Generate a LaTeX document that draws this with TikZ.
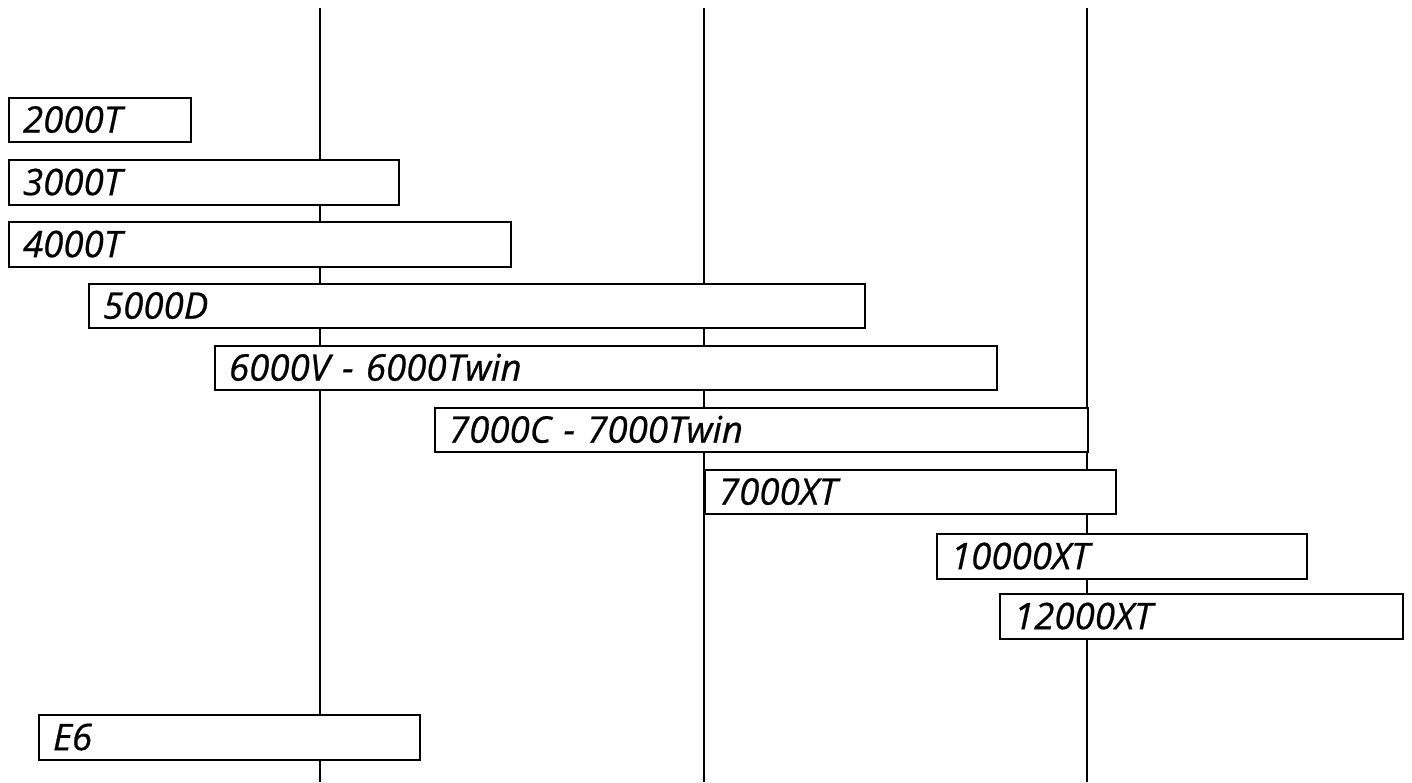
\documentclass[tikz,border=0pt]{standalone}
\usepackage{fontspec}
\setmainfont{Open Sans}
\newfontfamily\lblfont{Open Sans}[FakeBold=0.6]
\begin{document}
\begin{tikzpicture}[x=0.75pt,y=-0.75pt,
  vline/.style={line width=1.5pt,black},
  tb/.style={draw=black,fill=white,line width=1.5pt,anchor=north west,
    inner xsep=10.5pt,inner ysep=0pt,align=left,
    font=\lblfont\fontsize{27.5}{30}\selectfont\itshape,text height=19pt,text depth=0pt}]
\useasboundingbox (0,0) rectangle (1412,782);
\newcommand\tbox[6]{\node[tb,minimum width={(#4-#2)*0.75pt},minimum height={(#5-#3)*0.75pt},
  text width={(#4-#2-28)*0.75pt}] (#1) at (#2,#3) {#6};}
\coordinate (l1t) at (320,8); \coordinate (l1b) at (320,782);
\coordinate (l2t) at (704,8); \coordinate (l2b) at (704,782);
\coordinate (l3t) at (1087,8); \coordinate (l3b) at (1087,782);
\draw[vline] (l1t) -- (l1b);
\draw[vline] (l2t) -- (l2b);
\draw[vline] (l3t) -- (l3b);
\tbox{b2000}{8}{97}{190}{141}{2000T}
\tbox{b3000}{8}{159}{398}{204}{3000T}
\tbox{b4000}{8}{221}{510}{266}{4000T}
\tbox{b5000}{88}{283}{864}{327}{5000D}
\tbox{b6000}{214}{345}{996}{389}{6000V - 6000Twin}
\tbox{b7000}{434}{407}{1087}{451}{7000C - 7000Twin}
\tbox{b7000xt}{704}{469}{1115}{513}{7000XT}
\tbox{b10000}{936}{533}{1306}{578}{10000XT}
\tbox{b12000}{999}{593}{1402}{638}{12000XT}
\tbox{be6}{38}{714}{419}{759}{E6}
\end{tikzpicture}
\end{document}
